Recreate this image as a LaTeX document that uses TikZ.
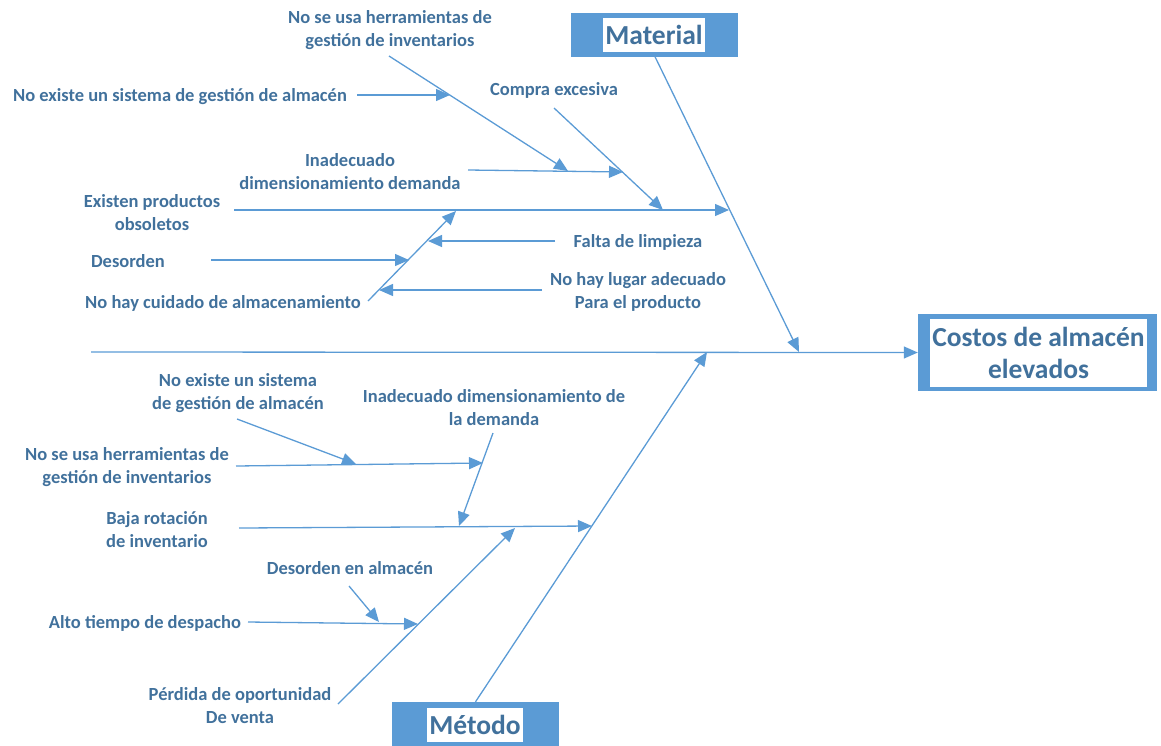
\documentclass[tikz,border=0pt]{standalone}
\usepackage{fontspec}
\setmainfont{Carlito}
\usetikzlibrary{arrows.meta}
\definecolor{bone}{HTML}{5B9BD5}
\definecolor{ink}{HTML}{41719C}

\begin{document}
\begin{tikzpicture}[x=1pt,y=-1pt,
  lbl/.style={text=ink, font=\bfseries\fontsize{18.5}{23}\selectfont, align=center, inner sep=0pt, yshift=-1.5pt},
  cattext/.style={fill=white, text=ink, font=\bfseries\fontsize{27.5}{30}\selectfont, inner sep=2pt, minimum height=34pt},
  catbox/.style={fill=bone, minimum width=167pt, minimum height=44pt, inner sep=0pt},
  link/.style={draw=bone, line width=1.3pt, -{Triangle[length=14pt,width=12pt]}}
]
\useasboundingbox (0,0) rectangle (1161,745);

% ---- head (effect) ----
\node[fill=bone, minimum width=239pt, minimum height=77pt, inner sep=0pt] (headbox) at (1037.5,352.5) {};
\node[fill=white, minimum width=217pt, minimum height=68pt, inner sep=0pt, text=ink,
      align=center, font=\bfseries\fontsize{27.5}{32}\selectfont] (head) at (1038.5,353) {Costos de almacén\\elevados};

% ---- category boxes ----
\node[catbox] (matbox) at (654,34.5) {};
\node[cattext] (mat) at (654,35) {Material};
\node[catbox] (metbox) at (475.5,724) {};
\node[cattext] (met) at (475,725) {Método};

% ---- labels: Material side ----
\node[lbl] (t1) at (390,28.5) {No se usa herramientas de\\gestión de inventarios};
\node[lbl] (t2) at (180,95) {No existe un sistema de gestión de almacén};
\node[lbl] (t3) at (554,89) {Compra excesiva};
\node[lbl] (t4) at (350,170) {Inadecuado\\dimensionamiento demanda};
\node[lbl] (t5) at (152,211) {Existen productos\\obsoletos};
\node[lbl] (t6) at (128,260) {Desorden};
\node[lbl] (t7) at (223,302) {No hay cuidado de almacenamiento};
\node[lbl] (t8) at (638,241) {Falta de limpieza};
\node[lbl] (t9) at (638,290) {No hay lugar adecuado\\Para el producto};

% ---- labels: Método side ----
\node[lbl] (b1) at (238,392) {No existe un sistema\\de gestión de almacén};
\node[lbl] (b2) at (494,406) {Inadecuado dimensionamiento de\\la demanda};
\node[lbl] (b3) at (127,466) {No se usa herramientas de\\gestión de inventarios};
\node[lbl] (b4) at (157,528) {Baja rotación\\de inventario};
\node[lbl] (b5) at (350,567) {Desorden en almacén};
\node[lbl] (b6) at (145,622) {Alto tiempo de despacho};
\node[lbl] (b7) at (240,704) {Pérdida de oportunidad\\De venta};

% ---- line end points ----
\coordinate (sp0) at (91,352);
\coordinate (mEnd) at (799,352);
\coordinate (kEnd) at (707,352);

\coordinate (t1a) at (389,56);   \coordinate (t1b) at (568,171);
\coordinate (t2a) at (357,95);   \coordinate (t2b) at (450,95);
\coordinate (t3a) at (554,108);  \coordinate (t3b) at (663,210);
\coordinate (t4a) at (468,170);  \coordinate (t4b) at (623,172);
\coordinate (t5a) at (234,210);  \coordinate (t5b) at (729,210);
\coordinate (t7a) at (368,301);  \coordinate (t7b) at (456,211);
\coordinate (t6a) at (211,260);  \coordinate (t6b) at (409,260);
\coordinate (t8a) at (555,241);  \coordinate (t8b) at (428,241);
\coordinate (t9a) at (542,290);  \coordinate (t9b) at (379,290);

\coordinate (b1a) at (237,419);  \coordinate (b1b) at (356,464);
\coordinate (b3a) at (236,466);  \coordinate (b3b) at (483,463);
\coordinate (b2a) at (493,433);  \coordinate (b2b) at (459,526);
\coordinate (b4a) at (239,528);  \coordinate (b4b) at (592,526);
\coordinate (b7a) at (338,704);  \coordinate (b7b) at (515,528);
\coordinate (b5a) at (349,586);  \coordinate (b5b) at (379,622);
\coordinate (b6a) at (248,622);  \coordinate (b6b) at (418,624);

% ---- spine and main bones ----
\draw[link] (sp0) -- (headbox.west);
\draw[link] (matbox.south -| 655,0) -- (mEnd);
\draw[link] (metbox.north) -- (kEnd);

% ---- Material side causes ----
\draw[link] (t1a) -- (t1b);
\draw[link] (t2a) -- (t2b);
\draw[link] (t3a) -- (t3b);
\draw[link] (t4a) -- (t4b);
\draw[link] (t5a) -- (t5b);
\draw[link] (t7a) -- (t7b);
\draw[link] (t6a) -- (t6b);
\draw[link] (t8a) -- (t8b);
\draw[link] (t9a) -- (t9b);

% ---- Método side causes ----
\draw[link] (b1a) -- (b1b);
\draw[link] (b3a) -- (b3b);
\draw[link] (b2a) -- (b2b);
\draw[link] (b4a) -- (b4b);
\draw[link] (b7a) -- (b7b);
\draw[link] (b5a) -- (b5b);
\draw[link] (b6a) -- (b6b);
\end{tikzpicture}
\end{document}
